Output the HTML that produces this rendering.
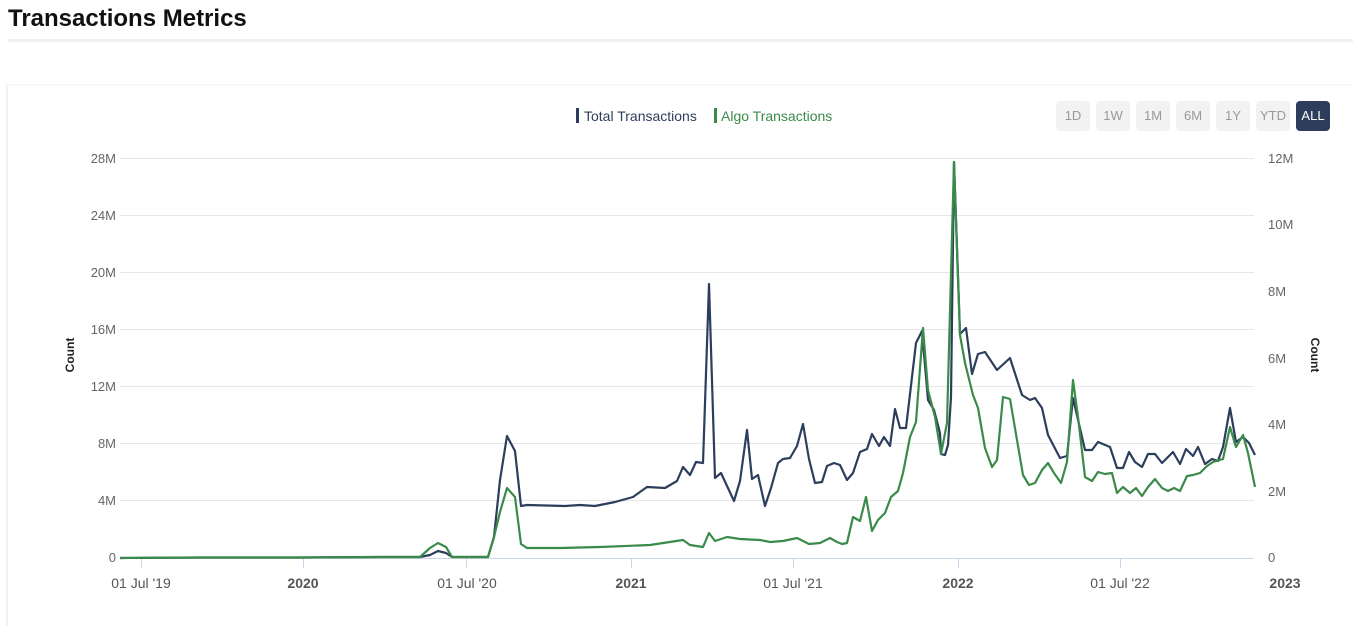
<!DOCTYPE html>
<html><head><meta charset="utf-8"><style>
body{margin:0;width:1353px;height:610px;background:#fff;font-family:"Liberation Sans",sans-serif;overflow:hidden;position:relative}
.t{position:absolute;left:8px;top:5px;font-size:24px;font-weight:bold;color:#111}
.sep{position:absolute;left:8px;top:39px;width:1345px;height:3px;background:#f0f0f0}
.card{position:absolute;left:6px;top:84px;width:1350px;height:540px;border-left:2px solid #f2f2f2;border-top:2px solid #f7f7f7}
.b{position:absolute;top:101px;width:34px;height:30px;border-radius:4px;background:#f2f2f2;color:#999;font-size:13px;line-height:30px;text-align:center}
</style></head><body>
<div class="t">Transactions Metrics</div>
<div class="sep"></div>
<div class="card"></div>
<div class="b" style="left:1056px">1D</div>
<div class="b" style="left:1096px">1W</div>
<div class="b" style="left:1136px">1M</div>
<div class="b" style="left:1176px">6M</div>
<div class="b" style="left:1216px">1Y</div>
<div class="b" style="left:1256px">YTD</div>
<div class="b" style="left:1296px;background:#2c3e5c;color:#fff">ALL</div>
<svg width="1353" height="610" style="position:absolute;left:0;top:0" font-family="Liberation Sans, sans-serif">
<rect x="576" y="108" width="3" height="15" fill="#2c3e5c"/>
<text x="584" y="121" font-size="14" fill="#2c3e5c">Total Transactions</text>
<rect x="714" y="108" width="3" height="15" fill="#3a8a4a"/>
<text x="721" y="121" font-size="14" fill="#3a8a4a">Algo Transactions</text>
<g stroke="#e6e6e6" stroke-width="1">
<line x1="120" x2="1254" y1="158.5" y2="158.5"/><line x1="120" x2="1254" y1="215.5" y2="215.5"/>
<line x1="120" x2="1254" y1="272.5" y2="272.5"/><line x1="120" x2="1254" y1="329.5" y2="329.5"/>
<line x1="120" x2="1254" y1="386.5" y2="386.5"/><line x1="120" x2="1254" y1="443.5" y2="443.5"/>
<line x1="120" x2="1254" y1="500.5" y2="500.5"/>
</g>
<line x1="120" x2="1254" y1="558.5" y2="558.5" stroke="#ccd6eb"/>
<g stroke="#ccd6eb"><line x1="466.5" x2="466.5" y1="558" y2="568"/><line x1="631.5" x2="631.5" y1="558" y2="568"/><line x1="793.5" x2="793.5" y1="558" y2="568"/><line x1="958.5" x2="958.5" y1="558" y2="568"/><line x1="1120.5" x2="1120.5" y1="558" y2="568"/><line x1="303.5" x2="303.5" y1="558" y2="568"/><line x1="141.5" x2="141.5" y1="558" y2="568"/></g>
<g font-size="13" fill="#666" text-anchor="end">
<text x="116" y="163">28M</text><text x="116" y="220">24M</text><text x="116" y="277">20M</text><text x="116" y="334">16M</text><text x="116" y="391">12M</text><text x="116" y="448">8M</text><text x="116" y="505">4M</text><text x="116" y="562">0</text>
</g>
<g font-size="13" fill="#666">
<text x="1268" y="163">12M</text><text x="1268" y="229">10M</text><text x="1268" y="296">8M</text><text x="1268" y="363">6M</text><text x="1268" y="429">4M</text><text x="1268" y="496">2M</text><text x="1268" y="562">0</text>
</g>
<g font-size="14" fill="#555" text-anchor="middle">
<text x="141" y="588">01 Jul '19</text><text x="303" y="588" font-weight="bold">2020</text><text x="467" y="588">01 Jul '20</text><text x="631" y="588" font-weight="bold">2021</text><text x="793" y="588">01 Jul '21</text><text x="958" y="588" font-weight="bold">2022</text><text x="1120" y="588">01 Jul '22</text><text x="1285" y="588" font-weight="bold">2023</text>
</g>
<text transform="translate(74,355) rotate(-90)" font-size="12" font-weight="bold" text-anchor="middle" fill="#222">Count</text>
<text transform="translate(1311,355) rotate(90)" font-size="12" font-weight="bold" text-anchor="middle" fill="#222">Count</text>
<polyline fill="none" stroke="#2c3e5c" stroke-width="2.2" stroke-linejoin="round" points="120,558 200,557.5 300,557.5 380,557 420,557 430,555 438,551 446,553 452,557 488,557 494,537 500,480 507,436 515,451 521,506 527,505 565,506 580,505 595,506 615,502 633,497 647,487 665,488 677,481 683,467 690,475 696,462 703,463 709,284 715,478 721,473 734,501 740,481 747,430 752,479 758,475 765,506 771,488 778,463 783,459 790,458 797,446 803,424 809,459 815,483 822,482 827,466 834,463 840,465 847,480 853,473 860,452 867,449 872,434 879,446 884,437 890,446 895,409 900,428 906,428 916,343 922,331 928,400 934,410 940,433 941,454 945,455 948,445 951,397 954,162 960,334 966,328 972,374 978,354 985,352 997,370 1010,358 1022,395 1030,400 1035,398 1042,408 1048,435 1060,458 1067,456 1073,398 1085,450 1092,450 1098,442 1110,447 1117,468 1123,468 1129,452 1135,462 1142,467 1148,454 1155,454 1162,463 1173,452 1180,464 1186,449 1193,456 1198,447 1205,464 1212,459 1218,461 1223,447 1230,408 1236,442 1243,437 1249,443 1255,455"/>
<polyline fill="none" stroke="#3a8a4a" stroke-width="2.2" stroke-linejoin="round" points="120,558 200,557.5 300,557.5 380,557 420,557 430,548 438,543 446,547 452,557 488,557 494,537 500,512 507,488 515,497 521,544 527,548 560,548 600,547 650,545 683,540 690,545 703,547 709,533 715,541 727,537 740,539 760,540 770,542 783,541 797,538 809,544 820,543 830,538 837,542 842,544 847,543 853,517 860,521 866,497 872,531 878,520 885,513 891,497 898,491 903,473 910,437 916,422 923,328 928,390 935,417 941,454 947,423 954,162 960,335 965,363 973,395 978,408 985,448 992,467 997,460 1003,397 1010,399 1017,440 1023,475 1029,485 1035,483 1042,470 1048,463 1054,473 1061,483 1067,462 1073,380 1078,417 1085,477 1092,481 1098,472 1105,474 1112,473 1117,493 1123,487 1130,493 1136,488 1142,496 1148,487 1155,479 1162,488 1168,491 1174,488 1180,491 1187,476 1193,475 1200,473 1207,466 1213,462 1223,459 1230,427 1236,447 1243,435 1248,453 1255,487"/>
</svg>
</body></html>
